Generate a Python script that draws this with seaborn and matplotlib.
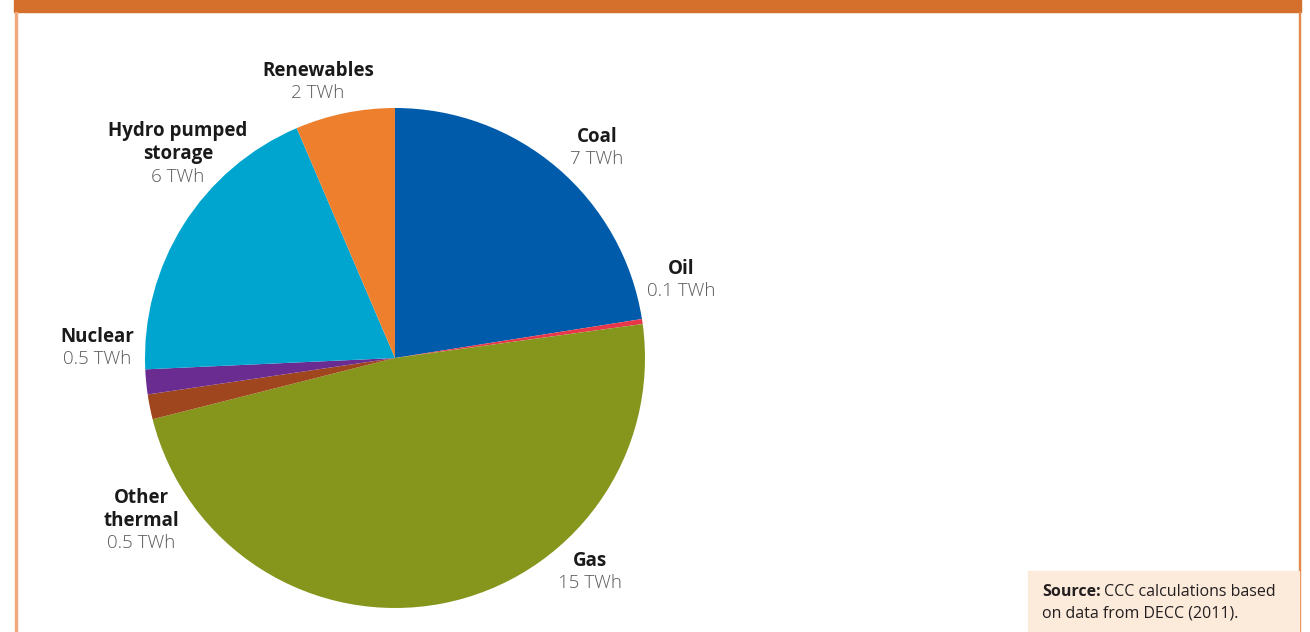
import matplotlib
matplotlib.use("Agg")
import matplotlib.pyplot as plt
from matplotlib.patches import Rectangle
import seaborn as sns

# Electricity generation by source (TWh), clockwise from 12 o'clock
sources = ["Coal", "Oil", "Gas", "Other\nthermal", "Nuclear",
           "Hydro pumped\nstorage", "Renewables"]
twh = [7, 0.1, 15, 0.5, 0.5, 6, 2]
value_labels = ["7 TWh", "0.1 TWh", "15 TWh", "0.5 TWh", "0.5 TWh",
                "6 TWh", "2 TWh"]

colors = ["#005BAA", "#E8374A", "#86951C", "#A0461E", "#6B2C91",
          "#00A5CF", "#EE7F2D"]

# Label anchors (in pie-radius units) for each source
label_xy = [(0.808, 0.844), (1.144, 0.320), (0.780, -0.848),
            (-1.016, -0.692), (-1.192, 0.044), (-0.868, 0.776),
            (-0.308, 1.108)]

sns.set_theme(style="white")
plt.rcParams["font.family"] = ["Open Sans", "DejaVu Sans"]

W, H = 1310, 632
fig = plt.figure(figsize=(W / 100, H / 100), dpi=100)
fig.patch.set_facecolor("white")

# Frame: thick top band and thin side rules
fig.patches.append(Rectangle((14 / W, (H - 12) / H), (1301 - 14) / W, 12 / H,
                             transform=fig.transFigure, color="#D5702C",
                             zorder=0))
fig.patches.append(Rectangle((15 / W, 0), 2 / W, (H - 12) / H,
                             transform=fig.transFigure, color="#EFA97D",
                             zorder=0))
fig.patches.append(Rectangle((1298.5 / W, 0), 1.6 / W, (H - 12) / H,
                             transform=fig.transFigure, color="#E4874D",
                             zorder=0))

# Source box
fig.patches.append(Rectangle((1028 / W, 0), (1298.5 - 1028) / W, 61 / H,
                             transform=fig.transFigure, color="#FCEADB",
                             zorder=0))

cx, cy, r = 395, 358, 250
ax = fig.add_axes([(cx - r) / W, (H - cy - r) / H, 2 * r / W, 2 * r / H])
ax.pie(twh, colors=colors, startangle=90, counterclock=False, radius=1,
       wedgeprops=dict(linewidth=0))
ax.set_xlim(-1, 1)
ax.set_ylim(-1, 1)
ax.set_aspect("equal")
ax.axis("off")

for name, val, (x, y) in zip(sources, value_labels, label_xy):
    ax.text(x, y - 0.002, name, ha="center", va="bottom", fontsize=13.5,
            fontweight="bold", color="#1A1A1A", linespacing=1.25,
            clip_on=False)
    ax.text(x, y - 0.014, val, ha="center", va="top", fontsize=13.5,
            fontweight="light", color="#58595B", clip_on=False)

# Source note
fig.canvas.draw()
t = fig.text(1042 / W, (H - 592) / H, "Source:", ha="left", va="center",
             fontsize=11.5, fontweight="bold", color="#231F20")
bb = t.get_window_extent(renderer=fig.canvas.get_renderer())
fig.text((bb.x1 + 3) / W, (H - 592) / H, "CCC calculations based",
         ha="left", va="center", fontsize=11.5, color="#231F20")
fig.text(1042 / W, (H - 614) / H, "on data from DECC (2011).",
         ha="left", va="center", fontsize=11.5, color="#231F20")

fig.savefig("out.png", dpi=100, facecolor="white")
